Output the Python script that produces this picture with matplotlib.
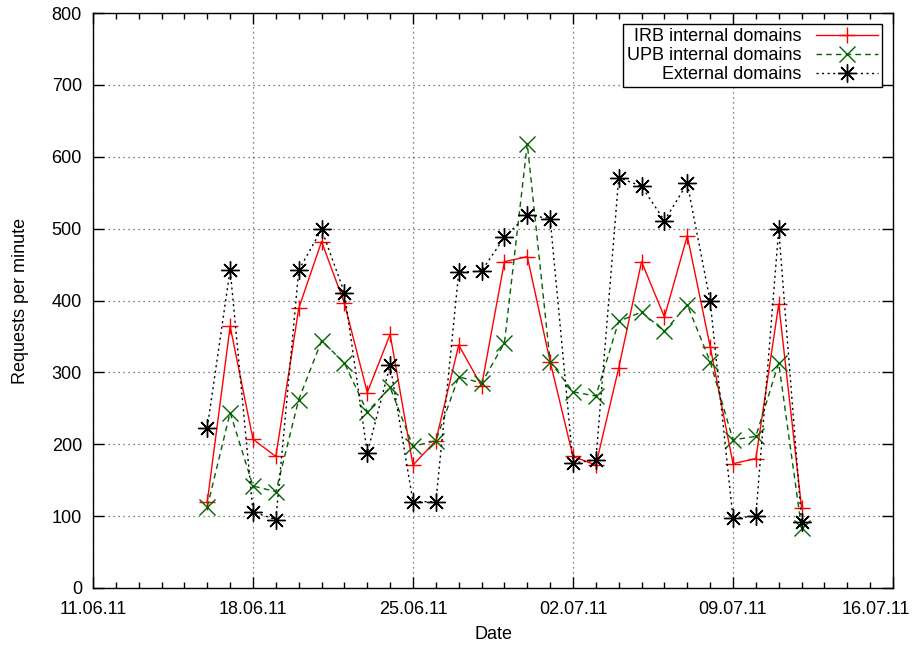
import numpy as np
import pandas as pd
import matplotlib
matplotlib.use("Agg")
import matplotlib.pyplot as plt
import matplotlib.dates as mdates
import matplotlib.transforms as mtransforms

# Daily values, 16.06.2011 - 12.07.2011
dates = pd.date_range("2011-06-16", "2011-07-12", freq="D")
irb = [120, 364, 207, 183, 389, 482, 396, 272, 353, 171, 205, 338, 281, 454,
       461, 315, 183, 171, 306, 454, 377, 490, 336, 173, 180, 395, 112]
upb = [113, 244, 142, 134, 262, 344, 313, 245, 279, 197, 205, 294, 285, 341,
       618, 315, 273, 267, 371, 384, 357, 394, 315, 206, 211, 313, 83]
ext = [223, 443, 106, 95, 442, 499, 411, 188, 310, 120, 120, 439, 441, 488,
       519, 514, 174, 178, 571, 559, 511, 563, 399, 97, 100, 499, 92]

plt.rcParams['font.family'] = ['Liberation Sans', 'DejaVu Sans']
plt.rcParams['font.size'] = 13

fig = plt.figure(figsize=(9.16, 6.47), dpi=100)
ax = fig.add_axes([93 / 916, 1 - 588 / 647, 800 / 916, 575 / 647])

ax.plot(dates, irb, color='red', linestyle='-', linewidth=1.0,
        marker='+', markersize=12, markeredgewidth=1.0, label='IRB internal domains')
ax.plot(dates, upb, color='#006400', linestyle=(0, (4, 3)), linewidth=1.0,
        marker='x', markersize=11, markeredgewidth=1.0, label='UPB internal domains')
ax.plot(dates, ext, color='black', linestyle=(0, (1.5, 2.5)), linewidth=1.0,
        marker=(8, 2, 0), markersize=13, markeredgewidth=1.0, label='External domains')

ax.set_xlim(pd.Timestamp("2011-06-11"), pd.Timestamp("2011-07-16"))
ax.set_ylim(0, 800)
ax.set_yticks(np.arange(0, 801, 100))

major = pd.date_range("2011-06-11", "2011-07-16", freq="7D")
ax.set_xticks(major)
ax.xaxis.set_major_formatter(mdates.DateFormatter('%d.%m.%y'))
ax.xaxis.set_minor_locator(mdates.DayLocator())

ax.tick_params(which='both', direction='in', top=True, right=True, width=1)
ax.tick_params(which='major', length=8)
ax.tick_params(which='minor', length=4)
ax.tick_params(axis='x', which='major', pad=9)
ax.tick_params(axis='y', which='major', pad=8)
for s in ax.spines.values():
    s.set_linewidth(1.0)

ax.grid(True, which='major', color='#555555', linestyle=(0, (1, 3)), linewidth=0.9)

ax.set_xlabel('Date', labelpad=6)
ax.set_ylabel('Requests per minute', labelpad=16)

# last date label sits inside the image, as in the original
fig.canvas.draw()
last = ax.get_xticklabels()[-1]
last.set_transform(last.get_transform() +
                   mtransforms.ScaledTranslation(-0.17, 0, fig.dpi_scale_trans))

leg = ax.legend(loc='upper right', markerfirst=False, fancybox=False,
                edgecolor='black', framealpha=1, handlelength=3.4,
                labelspacing=0.1, borderaxespad=0.6, borderpad=0.25,
                handletextpad=0.8)
leg.get_frame().set_linewidth(1.0)

fig.savefig('out.png', dpi=100)
